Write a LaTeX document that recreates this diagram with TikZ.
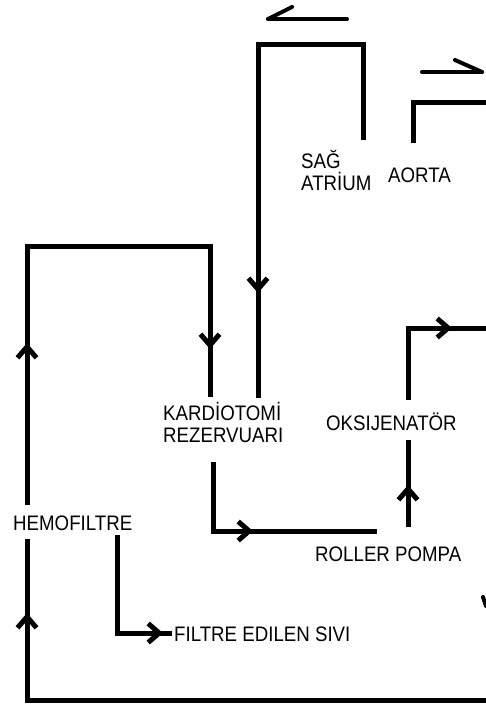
\documentclass[tikz,border=0pt]{standalone}
\usepackage{fontspec}
\setmainfont{Liberation Sans}[FakeStretch=0.89]
\usetikzlibrary{arrows.meta,decorations.markings}
\tikzset{
  barbtip/.tip={Straight Barb[length=11pt,width=19pt,line width=5pt]},
  flow/.style={line width=5pt, line join=miter, line cap=butt},
  flowmark/.style={postaction={decorate,decoration={markings,mark=at position #1 with {\arrow{barbtip}}}}},
  dirline/.style={line width=4pt, line cap=round},
  lbl/.style={anchor=base west, inner sep=0pt, font=\fontsize{21}{22}\selectfont},
}
\begin{document}
\begin{tikzpicture}[x=1pt,y=-1pt]
\useasboundingbox (0,0) rectangle (486,705);
% labels
\node[lbl] (sag) at (301,168) {SAĞ};
\node[lbl] (atrium) at (301,190) {ATRİUM};
\node[lbl] (aorta) at (388,182) {AORTA};
\node[lbl] (kard) at (163,420) {KARDİOTOMİ};
\node[lbl] (rez) at (163,442) {REZERVUARI};
\node[lbl] (oks) at (326,430) {OKSIJENATÖR};
\node[lbl] (roller) at (315,561) {ROLLER POMPA};
\node[lbl] (hemo) at (13,530) {HEMOFILTRE};
\node[lbl] (sivi) at (174,641) {FILTRE EDILEN SIVI};
% direction indicators
\coordinate (d1a) at (268,19); \coordinate (d1b) at (347,19); \coordinate (d1c) at (292,7);
\draw[dirline] (d1a) -- (d1b); \draw[dirline] (d1a) -- (d1c);
\coordinate (d2a) at (482,72); \coordinate (d2b) at (422,72); \coordinate (d2c) at (455,60);
\draw[dirline] (d2b) -- (d2a); \draw[dirline] (d2a) -- (d2c);
% right atrium -> cardiotomy reservoir
\coordinate (raS) at (363,140); \coordinate (raC1) at (363,44);
\coordinate (raC2) at (258,44); \coordinate (raE) at (258,398);
\draw[flow, flowmark=450pt] (raS) -- (raC1) -- (raC2) -- (raE);
% aorta
\coordinate (aoS) at (413,143); \coordinate (aoC) at (413,102); \coordinate (aoE) at (486,102);
\draw[flow] (aoS) -- (aoC) -- (aoE);
% hemofilter -> reservoir
\coordinate (hfS) at (27,505); \coordinate (hfC1) at (27,246);
\coordinate (hfC2) at (210,246); \coordinate (hfE) at (210,397);
\draw[flow, flowmark=162pt, flowmark=545pt] (hfS) -- (hfC1) -- (hfC2) -- (hfE);
% reservoir -> roller pump
\coordinate (rzS) at (213,462); \coordinate (rzC) at (213,531); \coordinate (rzE) at (377,531);
\draw[flow, flowmark=109pt] (rzS) -- (rzC) -- (rzE);
% roller pump -> oxygenator
\coordinate (rpS) at (408,527); \coordinate (rpE) at (408,440);
\draw[flow, flowmark=42pt] (rpS) -- (rpE);
% oxygenator -> out
\coordinate (oxS) at (408,400); \coordinate (oxC) at (408,328); \coordinate (oxE) at (486,328);
\draw[flow, flowmark=116pt] (oxS) -- (oxC) -- (oxE);
% hemofilter -> filtrate
\coordinate (fiS) at (117,535); \coordinate (fiC) at (117,633); \coordinate (fiE) at (172,633);
\draw[flow, flowmark=144pt] (fiS) -- (fiC) -- (fiE);
% return line -> hemofilter
\coordinate (btS) at (486,700); \coordinate (btC) at (27,700); \coordinate (btE) at (27,539);
\draw[flow, flowmark=546pt] (btS) -- (btC) -- (btE);
% fragment at right edge
\coordinate (frA) at (483,597); \coordinate (frB) at (486,606);
\draw[dirline] (frA) -- (frB);
\end{tikzpicture}
\end{document}
